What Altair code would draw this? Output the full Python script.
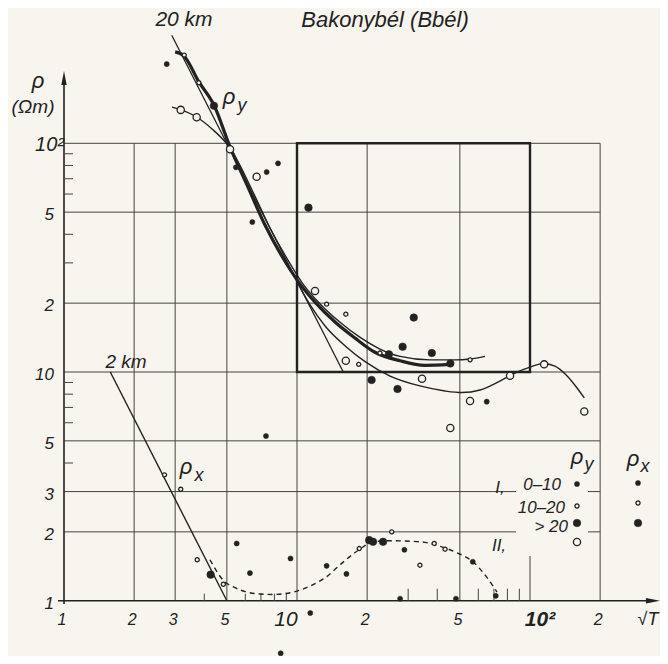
import altair as alt
import pandas as pd

# ---------------- values (x = sqrt(T), y = rho [Ohm m]) ----------------
# rho_y  I, 0-10 (small filled)
ry_fs_x = [2.76, 5.47, 7.41, 8.29, 6.43, 65.2]
ry_fs_y = [222, 78.5, 74.9, 81.7, 45.3, 7.42]
# rho_y  I, 10-20 (small open)
ry_os_x = [3.28, 3.79, 13.4, 16.2, 18.4, 22.7, 55.3]
ry_os_y = [243, 184, 19.8, 17.9, 10.8, 12.1, 11.3]
# rho_y  I, > 20 (large filled)
ry_fl_x = [4.40, 11.2, 31.7, 28.4, 24.8, 37.9, 45.5, 20.9, 27.0]
ry_fl_y = [146, 52.3, 17.3, 12.9, 11.95, 12.1, 10.9, 9.23, 8.43]
# rho_y  II, (large open)
ry_ol_x = [3.17, 3.71, 5.16, 6.71, 11.95, 16.2, 34.4, 82.1, 115, 55.3, 45.5, 171]
ry_ol_y = [140, 130, 94.2, 71.4, 22.6, 11.2, 9.35, 9.63, 10.8, 7.47, 5.69, 6.72]

# rho_x
rx_fs_x = [7.36, 5.51, 6.28, 9.38, 13.4, 16.3, 11.4, 8.51, 28.9, 56.8, 27.7, 48.1, 71.3]
rx_fs_y = [5.25, 1.78, 1.32, 1.53, 1.42, 1.31, 0.884, 0.589, 1.67, 1.48, 1.02, 1.02, 1.05]
rx_os_x = [2.70, 3.17, 3.73, 4.83, 18.5, 25.5, 33.7, 38.8, 43.2]
rx_os_y = [3.55, 3.07, 1.51, 1.18, 1.69, 2.00, 1.43, 1.78, 1.68]
rx_fl_x = [4.26, 20.4, 21.2, 23.4]
rx_fl_y = [1.30, 1.84, 1.81, 1.81]

# curves
bold_x = [3.00, 3.27, 3.80, 4.40, 5.16, 6.16, 7.29, 8.71, 10.0, 11.95, 14.6, 17.7, 21.6, 27.7, 35.4, 45.4]
bold_y = [251, 241, 185, 147, 96.3, 64.4, 43.9, 31.5, 25.3, 20.2, 16.5, 14.1, 12.2, 11.2, 10.7, 10.8]
thin_x = [2.91, 3.18, 3.72, 4.32, 5.16, 6.41, 7.66, 9.24, 10.6, 12.6, 15.3, 18.6, 22.7, 27.7, 37.2, 47.6, 55.3, 64.1]
thin_y = [144, 140, 130, 115.5, 95.4, 62.5, 42.6, 30.3, 24.3, 19.8, 16.5, 14.2, 12.6, 11.7, 11.3, 11.3, 11.4, 11.7]
long_x = [10.0, 11.4, 13.2, 16.1, 19.6, 25.1, 33.7, 43.2, 51.1, 61.0, 74.3, 86.2, 100, 114, 128, 143, 158, 171]
long_y = [24.8, 19.6, 15.9, 13.0, 11.1, 9.60, 8.69, 8.26, 8.13, 8.34, 9.13, 9.90, 10.5, 10.9, 10.6, 9.70, 8.60, 7.70]
dash_x = [4.23, 4.82, 5.42, 6.10, 6.94, 7.89, 9.61, 11.4, 13.2, 15.6, 18.6, 21.2, 25.1, 30.5, 35.4, 41.1, 48.6, 56.9, 64.7, 72.2]
dash_y = [1.51, 1.23, 1.14, 1.09, 1.07, 1.065, 1.09, 1.16, 1.26, 1.46, 1.68, 1.81, 1.83, 1.82, 1.80, 1.73, 1.62, 1.48, 1.28, 1.09]
km20_x = [2.9, 15.8]
km20_y = [297, 10]
km2_x = [1.58, 5.0]
km2_y = [10, 1.0]

# axes / grid values
x_grid = [2, 3, 5, 10, 20, 50, 200]
y_grid_full = [5, 10, 20, 50, 100]
y_grid_split = [2, 3]
x_minor_lo = [4, 6, 7, 8, 9]
x_minor_hi = [30, 40, 60, 70, 80, 90]
y_minor = [4, 6, 7, 8, 9, 30, 40, 60, 70, 80, 90]
x_tick_vals = [1, 2, 3, 5, 20, 50, 200]
x_tick_text = ["1", "2", "3", "5", "2", "5", "2"]
y_tick_vals = [1, 2, 3, 5, 10, 20, 50]
y_tick_text = ["1", "2", "3", "5", "10", "2", "5"]

# ---------------- layout ----------------
BG = "#f7f5ee"
INK = "#222222"
GRID = "#444444"
FONT = "Liberation Sans"
W, H = 652, 648
XPX0, XDEC = 64.0, 233.0     # page pixel of sqrt(T)=1, pixels per decade
YPX0, YDEC = 600.7, 228.7    # page pixel of rho=1, pixels per decade
xdom = [10 ** ((8 - XPX0) / XDEC), 10 ** ((8 + W - XPX0) / XDEC)]
ydom = [10 ** ((YPX0 - 8 - H) / YDEC), 10 ** ((YPX0 - 8) / YDEC)]


def px2x(px):
    return 10 ** ((px - XPX0) / XDEC)


def py2y(py):
    return 10 ** ((YPX0 - py) / YDEC)


XS = alt.Scale(type="log", domain=xdom, nice=False)
YS = alt.Scale(type="log", domain=ydom, nice=False)


def X(f):
    return alt.X(f, type="quantitative", scale=XS, axis=None)


def Y(f):
    return alt.Y(f, type="quantitative", scale=YS, axis=None)


one = pd.DataFrame({"a": [0]})
layers = []

# grid
vg = pd.DataFrame({"x": x_grid, "y": [1] * len(x_grid), "y2": [100] * len(x_grid)})
vg = pd.concat([vg, pd.DataFrame({"x": [100], "y": [1], "y2": [py2y(556)]})])
hg = pd.DataFrame({"y": y_grid_full, "x": [1] * len(y_grid_full), "x2": [200] * len(y_grid_full)})
hg2 = pd.DataFrame({"y": y_grid_split * 2,
                    "x": [1] * 2 + [px2x(588)] * 2,
                    "x2": [px2x(516)] * 2 + [200] * 2})
hg = pd.concat([hg, hg2])
layers.append(alt.Chart(vg).mark_rule(color=GRID, strokeWidth=1).encode(x=X("x"), y=Y("y"), y2="y2"))
layers.append(alt.Chart(hg).mark_rule(color=GRID, strokeWidth=1).encode(y=Y("y"), x=X("x"), x2="x2"))

# box
box = pd.DataFrame({"x": [10], "x2": [100], "y": [10], "y2": [100]})
layers.append(alt.Chart(box).mark_rect(fillOpacity=0, stroke=INK, strokeWidth=2.4)
              .encode(x=X("x"), x2="x2", y=Y("y"), y2="y2"))

# axes
ax = pd.DataFrame({"x": [px2x(58)], "x2": [px2x(652)], "y": [1]})
layers.append(alt.Chart(ax).mark_rule(color=INK, strokeWidth=1.6).encode(x=X("x"), x2="x2", y=Y("y")))
ay = pd.DataFrame({"x": [1], "y": [py2y(604)], "y2": [py2y(78)]})
layers.append(alt.Chart(ay).mark_rule(color=INK, strokeWidth=1.6).encode(x=X("x"), y=Y("y"), y2="y2"))
# minor ticks
ym = pd.DataFrame({"y": y_minor, "x": [1] * len(y_minor), "x2": [px2x(XPX0 + 9)] * len(y_minor)})
layers.append(alt.Chart(ym).mark_rule(color=GRID, strokeWidth=1).encode(y=Y("y"), x=X("x"), x2="x2"))
xm = pd.DataFrame({"x": x_minor_lo + x_minor_hi,
                   "y": [1] * (len(x_minor_lo) + len(x_minor_hi)),
                   "y2": [py2y(YPX0 - 7)] * len(x_minor_lo) + [py2y(YPX0 - 12)] * len(x_minor_hi)})
layers.append(alt.Chart(xm).mark_rule(color=GRID, strokeWidth=1).encode(x=X("x"), y=Y("y"), y2="y2"))
# arrows
layers.append(alt.Chart(one).mark_point(shape="M-1,-0.38L1,0L-1,0.38Z", size=200, filled=True,
                                        color=INK, opacity=1)
              .encode(x=alt.value(653 - 8), y=alt.value(YPX0 - 8)))
layers.append(alt.Chart(one).mark_point(shape="M-0.38,1L0,-1L0.38,1Z", size=200, filled=True,
                                        color=INK, opacity=1)
              .encode(x=alt.value(XPX0 - 8), y=alt.value(78 - 8)))


# curves
def line(xs, ys, width, dash=None):
    df = pd.DataFrame({"x": xs, "y": ys})
    kw = dict(color=INK, strokeWidth=width, interpolate="monotone")
    if dash:
        kw["strokeDash"] = dash
    return alt.Chart(df).mark_line(**kw).encode(x=X("x"), y=Y("y"))


layers.append(line(km20_x, km20_y, 1.3))
layers.append(line(km2_x, km2_y, 1.4))
layers.append(line(long_x, long_y, 1.4))
layers.append(line(thin_x, thin_y, 1.4))
layers.append(line(bold_x, bold_y, 3.2))
layers.append(line(dash_x, dash_y, 1.4, [5, 4]))


# points
def pts(xs, ys, size, filled):
    df = pd.DataFrame({"x": xs, "y": ys})
    if filled:
        m = alt.Chart(df).mark_point(shape="circle", filled=True, fill=INK, stroke=INK,
                                     strokeWidth=0.5, size=size, opacity=1)
    else:
        m = alt.Chart(df).mark_point(shape="circle", filled=True, fill=BG, stroke=INK,
                                     strokeWidth=1.3, size=size, opacity=1)
    return m.encode(x=X("x"), y=Y("y"))


SMALL_F, LARGE_F, SMALL_O, LARGE_O = 26, 58, 17, 52
layers += [
    pts(ry_os_x, ry_os_y, SMALL_O, False),
    pts(ry_ol_x, ry_ol_y, LARGE_O, False),
    pts(rx_os_x, rx_os_y, SMALL_O, False),
    pts(ry_fs_x, ry_fs_y, SMALL_F, True),
    pts(ry_fl_x, ry_fl_y, LARGE_F, True),
    pts(rx_fs_x, rx_fs_y, SMALL_F, True),
    pts(rx_fl_x, rx_fl_y, LARGE_F, True),
]


# text annotations (page pixel positions)
def txt(s, px, py, size=15, align="center", weight="normal"):
    return alt.Chart(one).mark_text(text=s, fontSize=size, align=align, baseline="middle",
                                    font=FONT, fontStyle="italic", fontWeight=weight, color=INK) \
        .encode(x=alt.value(px - 8), y=alt.value(py - 8))


def sym(px, py, size, filled):
    return alt.Chart(one).mark_point(shape="circle", filled=True, fill=INK if filled else BG,
                                     stroke=INK, strokeWidth=1.3 if not filled else 0.5,
                                     size=size, opacity=1) \
        .encode(x=alt.value(px - 8), y=alt.value(py - 8))


layers += [
    txt("Bakonybél (Bbél)", 385, 20, 22),
    txt("20 km", 184, 20, 21),
    txt("ρ", 38, 81, 22),
    txt("(Ωm)", 33, 107, 19),
    txt("ρ", 229, 97, 22), txt("y", 242, 106, 18),
    txt("ρ", 186, 467, 22), txt("x", 199, 476, 18),
    txt("2 km", 126, 362, 19),
    txt("ρ", 577, 457, 22), txt("y", 589, 465, 18),
    txt("ρ", 633, 459, 22), txt("x", 645, 467, 18),
    txt("I,", 500, 488, 17),
    txt("0–10", 561, 485, 17, "right"),
    txt("10–20", 565, 508, 17, "right"),
    txt("> 20", 568, 527, 17, "right"),
    txt("II,", 499, 546, 17),
    txt("√T", 648, 620, 18),
    sym(577, 484, SMALL_F, True), sym(577, 506, SMALL_O, False),
    sym(577, 523, LARGE_F, True), sym(577, 542, LARGE_O, False),
    sym(638, 483, SMALL_F, True), sym(638, 503, SMALL_O, False), sym(638, 523, LARGE_F, True),
]

# tick labels
xt = pd.DataFrame({"v": x_tick_vals, "t": x_tick_text})
layers.append(alt.Chart(xt).mark_text(fontSize=16, font=FONT, fontStyle="italic", color=INK,
                                      baseline="middle", dx=-2)
              .encode(x=X("v"), y=alt.value(620 - 8), text="t:N"))
layers.append(alt.Chart(pd.DataFrame({"v": [10], "t": ["10"]}))
              .mark_text(fontSize=21, font=FONT, fontStyle="italic", color=INK, baseline="middle", dx=-11)
              .encode(x=X("v"), y=alt.value(620 - 8), text="t:N"))
layers.append(alt.Chart(pd.DataFrame({"v": [100], "t": ["10²"]}))
              .mark_text(fontSize=21, font=FONT, fontStyle="italic", fontWeight="bold", color=INK,
                         baseline="middle", dx=10)
              .encode(x=X("v"), y=alt.value(620 - 8), text="t:N"))
yt = pd.DataFrame({"v": y_tick_vals, "t": y_tick_text})
layers.append(alt.Chart(yt).mark_text(fontSize=17, font=FONT, fontStyle="italic", color=INK,
                                      baseline="middle", align="right", dy=3)
              .encode(y=Y("v"), x=alt.value(54 - 8), text="t:N"))
layers.append(alt.Chart(pd.DataFrame({"v": [100], "t": ["10²"]}))
              .mark_text(fontSize=20, font=FONT, fontStyle="italic", color=INK,
                         baseline="middle", align="right", dy=2)
              .encode(y=Y("v"), x=alt.value(64 - 8), text="t:N"))

chart = alt.layer(*layers).properties(
    width=W, height=H, padding=0,
    autosize=alt.AutoSizeParams(type="none"),
    background=BG,
).configure_view(stroke=None)

chart.save("out.html", embed_options={"renderer": "svg", "actions": False})
